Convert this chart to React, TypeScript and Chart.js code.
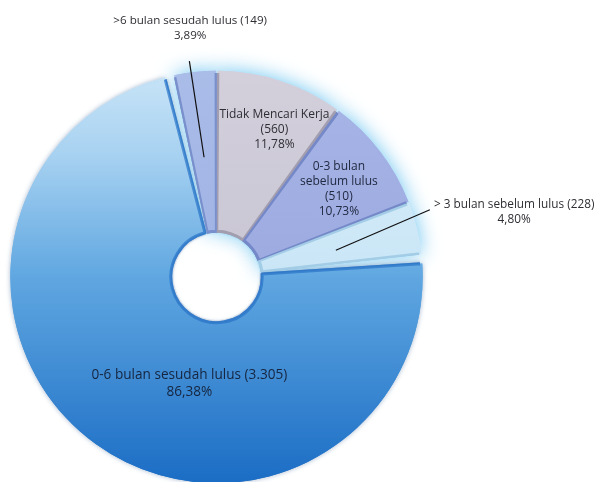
import React, { useEffect, useRef } from "react";
import { Chart, registerables } from "chart.js";

Chart.register(...registerables);

// ---- data ----
const categories = [
  "Tidak Mencari Kerja",
  "0-3 bulan sebelum lulus",
  "> 3 bulan sebelum lulus",
  "0-6 bulan sesudah lulus",
  ">6 bulan sesudah lulus",
];
const percentValues = [11.78, 10.73, 4.8, 86.38, 3.89];
const countLabels = ["560", "510", "228", "3.305", "149"];
const percentLabels = ["11,78%", "10,73%", "4,80%", "86,38%", "3,89%"];

// label text lines (built from the data above)
const labelLines: string[][] = [
  [categories[0], `(${countLabels[0]})`, percentLabels[0]],
  ["0-3 bulan", "sebelum lulus", `(${countLabels[1]})`, percentLabels[1]],
  [`${categories[2]} (${countLabels[2]})`, percentLabels[2]],
  [`${categories[3]} (${countLabels[3]})`, percentLabels[3]],
  [`${categories[4]} (${countLabels[4]})`, percentLabels[4]],
];

// ---- layout / style (fractions of the outer radius, relative to centre) ----
const labelAnchor = [
  { x: 0.284, y: -0.723 },
  { x: 0.6, y: -0.432 },
  { x: 1.459, y: -0.32 },
  { x: -0.133, y: 0.524 },
  { x: -0.129, y: -1.218 },
];
const leaderLines: ({ from: { x: number; y: number }; to: { x: number; y: number } } | null)[] = [
  null,
  null,
  { from: { x: 0.585, y: -0.131 }, to: { x: 1.046, y: -0.33 } },
  null,
  { from: { x: -0.061, y: -0.587 }, to: { x: -0.133, y: -1.058 } },
];
const gradStops: [number, string][][] = [
  [[0, "#d3d0dc"], [1, "#bfbbcb"]],
  [[0, "#a8b5e6"], [1, "#909fdb"]],
  [[0, "#dbeffa"], [1, "#b8dcf2"]],
  [[0, "#c8e4f7"], [0.2, "#a8d2f1"], [0.5, "#60a7e1"], [1, "#1b6dc5"]],
  [[0, "#aabce8"], [1, "#93a8e0"]],
];
const borderColors = ["#a29eb0", "#7588c8", "#a3cce6", "rgba(40,115,200,0.7)", "#7a90cc"];
const fontSizes = [12, 12, 11.8, 13.6, 11.6];
const textColors = ["#2e2e34", "#222a42", "#2e2e34", "#15253f", "#2e2e34"];
const FONT = "'Open Sans', 'DejaVu Sans', sans-serif";

const glowPlugin = {
  id: "glow",
  beforeDatasetsDraw(chart: any) {
    const ctx = chart.ctx;
    const meta = chart.getDatasetMeta(0);
    meta.data.forEach((arc: any, i: number) => {
      ctx.save();
      if (i === 3) {
        ctx.shadowColor = "rgba(20,70,130,0.4)";
        ctx.shadowBlur = 5;
      } else {
        ctx.shadowColor = "rgba(105,195,240,1)";
        ctx.shadowBlur = 20;
      }
      arc.draw(ctx);
      ctx.restore();
    });
  },
};

const labelPlugin = {
  id: "sliceLabels",
  afterDatasetsDraw(chart: any) {
    const ctx = chart.ctx;
    const meta = chart.getDatasetMeta(0);
    const arc0 = meta.data[0];
    const cx = arc0.x;
    const cy = arc0.y;
    const r = arc0.outerRadius;
    ctx.save();
    leaderLines.forEach((ln) => {
      if (!ln) return;
      ctx.beginPath();
      ctx.strokeStyle = "#111";
      ctx.lineWidth = 1.2;
      ctx.moveTo(cx + ln.from.x * r, cy + ln.from.y * r);
      ctx.lineTo(cx + ln.to.x * r, cy + ln.to.y * r);
      ctx.stroke();
    });
    labelLines.forEach((lines, i) => {
      const fs = fontSizes[i];
      const lh = i === 3 ? 17 : 15;
      ctx.font = `${fs}px ${FONT}`;
      ctx.fillStyle = textColors[i];
      ctx.textAlign = "center";
      ctx.textBaseline = "middle";
      const ax = cx + labelAnchor[i].x * r;
      const ay = cy + labelAnchor[i].y * r;
      const y0 = ay - ((lines.length - 1) * lh) / 2;
      lines.forEach((t, k) => ctx.fillText(t, ax, y0 + k * lh));
    });
    ctx.restore();
  },
};

export default function App() {
  const ref = useRef<HTMLCanvasElement | null>(null);
  useEffect(() => {
    if (!ref.current) return;
    const chart = new Chart(ref.current, {
      type: "doughnut",
      data: {
        labels: categories,
        datasets: [
          {
            data: percentValues,
            backgroundColor: (c: any) => {
              const i = c.dataIndex;
              const ch = c.chart;
              const area = ch.chartArea;
              if (!area) return gradStops[i][0][1];
              const g = ch.ctx.createLinearGradient(0, area.top, 0, area.bottom);
              gradStops[i].forEach(([p, col]) => g.addColorStop(p, col));
              return g;
            },
            borderColor: borderColors,
            borderWidth: 1.5,
            borderAlign: "inner",
            spacing: 5,
            clip: false,
          } as any,
        ],
      },
      options: {
        animation: false,
        responsive: false,
        maintainAspectRatio: false,
        radius: 204,
        cutout: "21%",
        rotation: 0,
        layout: { padding: { left: 0, right: 167, top: 72, bottom: 0 } },
        plugins: {
          legend: { display: false },
          tooltip: { enabled: false },
        },
      } as any,
      plugins: [glowPlugin, labelPlugin],
    });
    return () => chart.destroy();
  }, []);
  return (
    <div style={{ position: "fixed", left: 0, top: 0, width: 600, height: 482, background: "#fff" }}>
      <canvas ref={ref} width={600} height={482} style={{ width: 600, height: 482 }} />
    </div>
  );
}
